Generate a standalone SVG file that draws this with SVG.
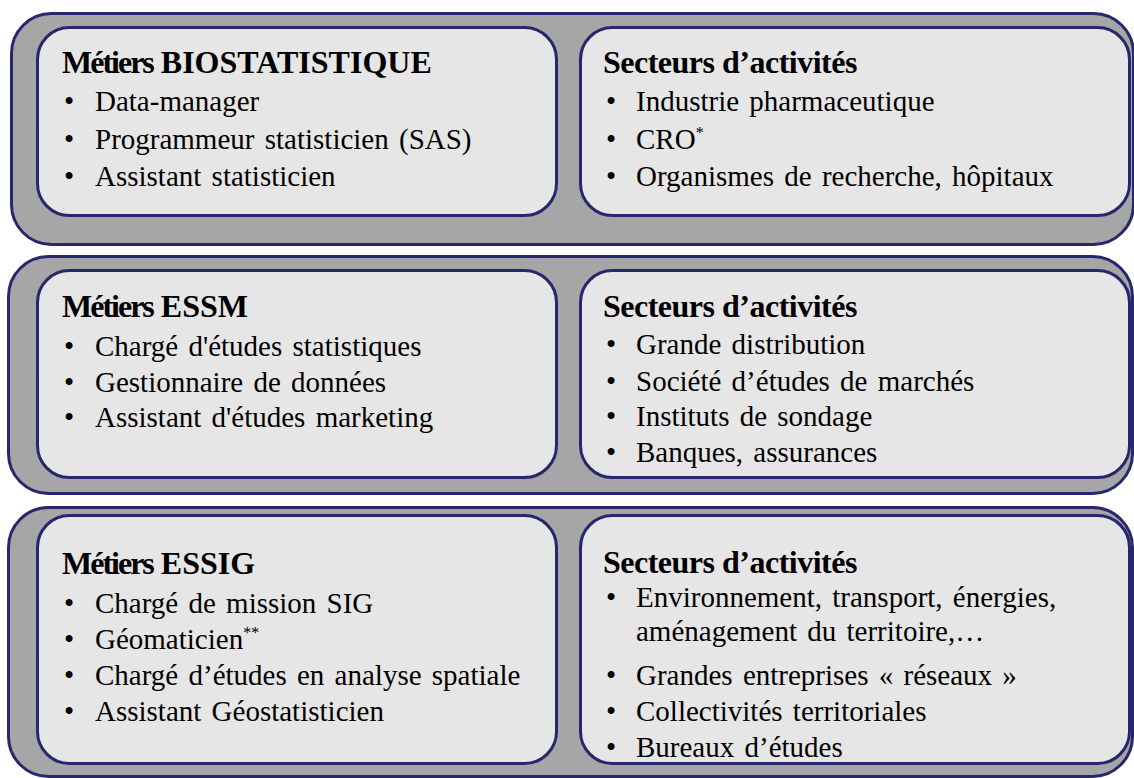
<svg xmlns="http://www.w3.org/2000/svg" width="1134" height="778" viewBox="0 0 1134 778">
<style>
.band{fill:#a6a6a6;stroke:#27276e;stroke-width:3}
.box{fill:#e6e6e6;stroke:#27276e;stroke-width:3}
.t{font-family:"Liberation Serif","Times New Roman",serif;font-weight:bold;font-size:32px;fill:#000}
.m{letter-spacing:-2px}
.s{letter-spacing:-0.5px}
.b{font-family:"Liberation Serif","Times New Roman",serif;font-size:29px;fill:#000;word-spacing:3px}
.sup{font-size:16px}
</style>
<rect width="1134" height="778" fill="#fff"/>
<g id="band1">
<rect class="band" x="11.5" y="13.5" width="1122" height="231" rx="40"/>
<g id="bio-metiers">
<rect class="box" x="37.5" y="27.5" width="519" height="188" rx="32"/>
<text class="t" x="62" y="73"><tspan class="m">Métiers</tspan> BIOSTATISTIQUE</text>
<text class="b" x="64" y="111">•</text><text class="b" x="95" y="111">Data-manager</text>
<text class="b" x="64" y="149">•</text><text class="b" x="95" y="149">Programmeur statisticien (SAS)</text>
<text class="b" x="64" y="186">•</text><text class="b" x="95" y="186">Assistant statisticien</text>
</g>
<g id="bio-secteurs">
<rect class="box" x="580.5" y="27.5" width="549" height="188" rx="32"/>
<text class="t s" x="603" y="73">Secteurs d’activités</text>
<text class="b" x="606" y="111">•</text><text class="b" x="636" y="111">Industrie pharmaceutique</text>
<text class="b" x="606" y="149">•</text><text class="b" x="636" y="149">CRO<tspan class="sup" dy="-11">*</tspan></text>
<text class="b" x="606" y="186">•</text><text class="b" x="636" y="186">Organismes de recherche, hôpitaux</text>
</g>
</g>
<g id="band2">
<rect class="band" x="8.5" y="256.5" width="1124" height="237" rx="40"/>
<g id="essm-metiers">
<rect class="box" x="37.5" y="270.5" width="519" height="207" rx="32"/>
<text class="t" x="62" y="317"><tspan class="m">Métiers</tspan> ESSM</text>
<text class="b" x="64" y="356">•</text><text class="b" x="95" y="356">Chargé d'études statistiques</text>
<text class="b" x="64" y="392">•</text><text class="b" x="95" y="392">Gestionnaire de données</text>
<text class="b" x="64" y="427">•</text><text class="b" x="95" y="427">Assistant d'études marketing</text>
</g>
<g id="essm-secteurs">
<rect class="box" x="580.5" y="270.5" width="549" height="207" rx="32"/>
<text class="t s" x="603" y="317">Secteurs d’activités</text>
<text class="b" x="606" y="354">•</text><text class="b" x="636" y="354">Grande distribution</text>
<text class="b" x="606" y="391">•</text><text class="b" x="636" y="391">Société d’études de marchés</text>
<text class="b" x="606" y="426">•</text><text class="b" x="636" y="426">Instituts de sondage</text>
<text class="b" x="606" y="462">•</text><text class="b" x="636" y="462">Banques, assurances</text>
</g>
</g>
<g id="band3">
<rect class="band" x="8.5" y="507.5" width="1124" height="269" rx="40"/>
<g id="essig-metiers">
<rect class="box" x="37.5" y="515.5" width="519" height="248" rx="32"/>
<text class="t" x="62" y="574"><tspan class="m">Métiers</tspan> ESSIG</text>
<text class="b" x="64" y="613">•</text><text class="b" x="95" y="613">Chargé de mission SIG</text>
<text class="b" x="64" y="649">•</text><text class="b" x="95" y="649">Géomaticien<tspan class="sup" dy="-11">**</tspan></text>
<text class="b" x="64" y="685">•</text><text class="b" x="95" y="685">Chargé d’études en analyse spatiale</text>
<text class="b" x="64" y="721">•</text><text class="b" x="95" y="721">Assistant Géostatisticien</text>
</g>
<g id="essig-secteurs">
<rect class="box" x="580.5" y="515.5" width="549" height="248" rx="32"/>
<text class="t s" x="603" y="573">Secteurs d’activités</text>
<text class="b" x="606" y="607">•</text><text class="b" x="636" y="607">Environnement, transport, énergies,</text>
<text class="b" x="636" y="641">aménagement du territoire,…</text>
<text class="b" x="606" y="685">•</text><text class="b" x="636" y="685">Grandes entreprises « réseaux »</text>
<text class="b" x="606" y="721">•</text><text class="b" x="636" y="721">Collectivités territoriales</text>
<text class="b" x="606" y="757">•</text><text class="b" x="636" y="757">Bureaux d’études</text>
</g>
</g>
<g id="connectors"></g>
</svg>
